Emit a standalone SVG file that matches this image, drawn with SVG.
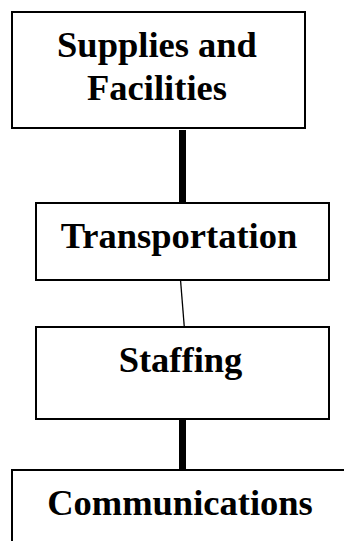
<svg xmlns="http://www.w3.org/2000/svg" width="344" height="541" viewBox="0 0 344 541">
<style>
.box{fill:#fff;stroke:#000;stroke-width:2}
.lbl{font-family:"Liberation Serif",serif;font-weight:bold;font-size:36.5px;fill:#000;text-anchor:middle}
.thick{stroke:#000;stroke-width:7}
.thin{stroke:#000;stroke-width:1.3}
</style>
<rect width="344" height="541" fill="#fff"/>
<g id="connectors">
<line class="thick" x1="182.5" y1="130" x2="182.5" y2="204"/>
<line class="thin" x1="180.2" y1="276" x2="184.3" y2="327"/>
<line class="thick" x1="182.5" y1="420" x2="182.5" y2="470"/>
</g>
<g id="n1">
<rect class="box" x="12" y="12" width="293" height="116"/>
<text class="lbl" x="157" y="57">Supplies and</text>
<text class="lbl" x="157" y="100">Facilities</text>
</g>
<g id="n2">
<rect class="box" x="36" y="203" width="293" height="77"/>
<text class="lbl" x="179" y="248">Transportation</text>
</g>
<g id="n3">
<rect class="box" x="36" y="327" width="293" height="92"/>
<text class="lbl" x="180.5" y="372">Staffing</text>
</g>
<g id="n4">
<rect class="box" x="12" y="470" width="340" height="90"/>
<text class="lbl" x="180" y="515">Communications</text>
</g>
</svg>
